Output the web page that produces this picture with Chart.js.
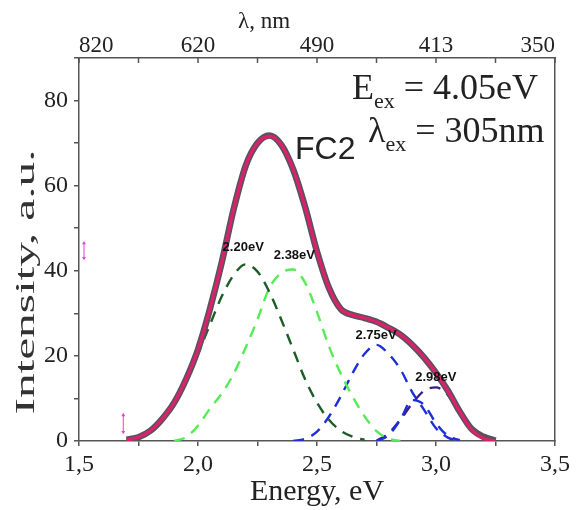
<!DOCTYPE html>
<html>
<head>
<meta charset="utf-8">
<script src="https://cdn.jsdelivr.net/npm/chart.js@4.4.1/dist/chart.umd.min.js"></script>
<style>
  html, body { margin: 0; padding: 0; background: #fff; }
  #wrap { width: 581px; height: 510px; }
</style>
</head>
<body>
<div id="wrap"><canvas id="plChart"></canvas></div>
<script>
// energy grid, eV
const energy = [1.70, 1.75, 1.80, 1.85, 1.90, 1.95, 2.00, 2.05, 2.10, 2.15, 2.20,
                2.25, 2.30, 2.35, 2.40, 2.45, 2.50, 2.55, 2.60, 2.65, 2.70, 2.75,
                2.80, 2.85, 2.90, 2.95, 3.00, 3.05, 3.10, 3.15, 3.20, 3.25, 3.30];

// measured spectrum (grey) and total fit (magenta)
const measured = [0.3, 0.9, 2.4, 5.2, 9.0, 14.5, 21.5, 31.0, 42.0, 54.5, 64.6,
                  70.0, 71.8, 69.6, 63.8, 55.0, 44.5, 36.0, 31.0, 29.6, 28.9, 28.0,
                  26.6, 25.0, 22.6, 19.6, 16.0, 11.8, 6.9, 2.8, 1.0, 0.1, null];
const fitTotal = [0.2, 0.9, 2.4, 5.2, 9.0, 14.5, 21.5, 31.0, 42.0, 54.5, 64.6,
                  70.0, 71.6, 69.6, 63.8, 55.0, 44.5, 36.0, 31.0, 29.6, 28.9, 28.0,
                  26.6, 25.0, 22.6, 19.6, 16.0, 11.8, 6.9, 2.6, 0.6, 0.0, null];

// gaussian components
const peak220 = [0.3, 0.9, 2.4, 5.0, 8.8, 14.0, 20.5, 27.3, 34.0, 39.0, 41.5,
                 39.8, 35.0, 28.5, 21.5, 14.5, 9.0, 5.0, 2.4, 1.0, 0.3, null,
                 null, null, null, null, null, null, null, null, null, null, null];
const peak238 = [null, null, null, null, 0.0, 0.9, 3.6, 7.6, 11.2, 15.8, 21.9,
                 28.6, 36.0, 39.5, 40.3, 37.2, 30.3, 22.3, 15.8, 10.4, 5.8, 2.3,
                 0.6, 0.0, null, null, null, null, null, null, null, null, null];
const peak275 = [null, null, null, null, null, null, null, null, null, null, null,
                 null, null, null, 0.0, 0.5, 2.2, 5.7, 10.5, 16.0, 20.5, 22.6,
                 20.5, 16.9, 11.5, 7.3, 3.0, 0.8, 0.0, null, null, null, null];
const peak291 = [null, null, null, null, null, null, null, null, null, null, null,
                 null, null, null, null, null, null, null, null, null, null, 0.0,
                 1.3, 5.0, 9.6, 8.5, 4.2, 1.2, 0.2, null, null, null, null];
const peak298 = [null, null, null, null, null, null, null, null, null, null, null,
                 null, null, null, null, null, null, null, null, null, null, 0.0,
                 1.8, 5.0, 8.8, 11.8, 12.6, 10.8, 7.0, 3.2, 1.0, 0.2, null];

// peak labels: centre value and where the text sits (data units)
const peakCenters = [2.20, 2.38, 2.75, 2.98];
const labelE = [2.19, 2.405, 2.748, 2.999];
const labelI = [45.4, 43.7, 24.9, 15.0];

// little magenta cursor marks
const markerE = [1.521, 1.686];
const markerLow = [43.0, 2.1];
const markerHigh = [46.5, 6.1];

// top axis: wavelength labels at energy ticks
const topTickE = [1.5, 2.0, 2.5, 3.0, 3.5];
const topTickNm = ['820', '620', '490', '413', '350'];

const serif = '"Liberation Serif", "Times New Roman", serif';
const sans = '"Liberation Sans", Arial, sans-serif';
const axisColor = '#555';
const textColor = '#222';

function pts(arr) {
    return energy.map((e, i) => ({ x: e, y: arr[i] }));
}

function curve(arr, color, width, dash) {
    return {
        data: pts(arr),
        borderColor: color,
        borderWidth: width,
        borderDash: dash || [],
        pointRadius: 0,
        fill: false,
        cubicInterpolationMode: 'monotone',
        spanGaps: false
    };
}

const markerSets = markerE.map((e, i) => ({
    data: [{ x: e, y: markerLow[i] }, { x: e, y: markerHigh[i] }],
    borderColor: '#e23fdc',
    backgroundColor: '#e23fdc',
    borderWidth: 1,
    pointStyle: 'triangle',
    pointRadius: 2.2,
    pointRotation: [180, 0],
    pointBorderWidth: 0
}));

// text, top inward ticks etc.
const decorPlugin = {
    id: 'decor',
    afterDraw(chart) {
        const { ctx, chartArea: a, scales } = chart;
        ctx.save();

        ctx.strokeStyle = axisColor;
        ctx.lineWidth = 1.5;
        scales.x2.ticks.forEach(t => {
            const px = scales.x2.getPixelForValue(t.value);
            ctx.beginPath();
            ctx.moveTo(px, a.top);
            ctx.lineTo(px, a.top + 5);
            ctx.stroke();
        });

        // peak labels
        ctx.fillStyle = '#111';
        ctx.font = 'bold 13px ' + sans;
        ctx.textAlign = 'center';
        ctx.textBaseline = 'middle';
        peakCenters.forEach((c, i) => {
            ctx.fillText(c.toFixed(2) + 'eV',
                scales.x.getPixelForValue(labelE[i]),
                scales.y.getPixelForValue(labelI[i]));
        });

        // top axis title
        ctx.fillStyle = textColor;
        ctx.font = '23px ' + serif;
        ctx.textBaseline = 'alphabetic';
        ctx.fillText('λ, nm', 264, 28);

        // y axis title (stretched like in the original)
        ctx.save();
        ctx.translate(27, 282);
        ctx.rotate(-Math.PI / 2);
        ctx.fillStyle = '#333';
        ctx.font = '28px ' + serif;
        const yt = 'Intensity, a.u.';
        const w = ctx.measureText(yt).width;
        ctx.scale(265 / w, 1);
        ctx.textAlign = 'center';
        ctx.textBaseline = 'middle';
        ctx.fillText(yt, 0, 0);
        ctx.restore();

        // excitation annotation
        function subLine(main, sub, rest, x, y) {
            ctx.textAlign = 'left';
            ctx.textBaseline = 'alphabetic';
            ctx.font = '36px ' + serif;
            ctx.fillText(main, x, y);
            x += ctx.measureText(main).width;
            ctx.font = '22px ' + serif;
            ctx.fillText(sub, x, y + 9);
            x += ctx.measureText(sub).width;
            ctx.font = '36px ' + serif;
            ctx.fillText(rest, x, y);
        }
        subLine('E', 'ex', ' = 4.05eV', 352, 99);
        subLine('λ', 'ex', ' = 305nm', 368, 142);

        ctx.font = '32px ' + sans;
        ctx.textAlign = 'left';
        ctx.fillText('FC2', 295, 159);

        ctx.restore();
    }
};

new Chart(document.getElementById('plChart'), {
    type: 'line',
    data: {
        datasets: [
            curve(fitTotal, '#d6226f', 3.4),
            curve(measured, '#555555', 6.5),
            curve(peak220, '#1c5e26', 2.4, [11, 8]),
            curve(peak238, '#55ec55', 2.4, [11, 8]),
            curve(peak275, '#1f2fd8', 2.4, [11, 8]),
            curve(peak291, '#1f2fd8', 2.4, [11, 8]),
            curve(peak298, '#3b1a8c', 2.4, [11, 8]),
            ...markerSets
        ]
    },
    options: {
        responsive: true,
        maintainAspectRatio: false,
        animation: false,
        layout: { padding: 0 },
        plugins: {
            legend: { display: false },
            tooltip: { enabled: false }
        },
        scales: {
            x: {
                type: 'linear',
                position: 'bottom',
                min: 1.5,
                max: 3.5,
                afterFit: s => { s.height = 69; },
                ticks: {
                    stepSize: 0.25,
                    autoSkip: false,
                    maxRotation: 0,
                    padding: 4,
                    color: textColor,
                    font: { family: serif, size: 24 },
                    callback: v => Math.abs(v * 2 - Math.round(v * 2)) < 1e-6 ? v.toFixed(1).replace('.', ',') : ''
                },
                grid: { drawOnChartArea: false, drawTicks: true, tickLength: 5, color: axisColor, lineWidth: 1.5 },
                border: { display: true, color: axisColor, width: 1.5 },
                title: {
                    display: true,
                    text: 'Energy, eV',
                    color: textColor,
                    font: { family: serif, size: 30 },
                    padding: { top: 0, bottom: 0 }
                }
            },
            x2: {
                type: 'linear',
                position: 'top',
                min: 1.5,
                max: 3.5,
                afterFit: s => { s.height = 58; },
                ticks: {
                    stepSize: 0.25,
                    autoSkip: false,
                    maxRotation: 0,
                    align: 'inner',
                    padding: -2,
                    color: textColor,
                    font: { family: serif, size: 23 },
                    callback: v => {
                        const k = topTickE.findIndex(e => Math.abs(e - v) < 1e-6);
                        return k >= 0 ? topTickNm[k] : '';
                    }
                },
                grid: { drawOnChartArea: false, drawTicks: false },
                border: { display: true, color: axisColor, width: 1.5 }
            },
            y: {
                min: 0,
                max: 90,
                afterFit: s => { s.width = 79; },
                ticks: {
                    stepSize: 10,
                    padding: 6,
                    color: textColor,
                    font: { family: serif, size: 24 },
                    callback: v => v % 20 === 0 ? v : ''
                },
                grid: { drawOnChartArea: false, drawTicks: true, tickLength: 5, color: axisColor, lineWidth: 1.5 },
                border: { display: true, color: axisColor, width: 1.5 }
            },
            y2: {
                position: 'right',
                min: 0,
                max: 90,
                afterFit: s => { s.width = 26; },
                ticks: { display: false },
                grid: { display: false },
                border: { display: true, color: axisColor, width: 1.5 }
            }
        }
    },
    plugins: [decorPlugin]
});
</script>
</body>
</html>
